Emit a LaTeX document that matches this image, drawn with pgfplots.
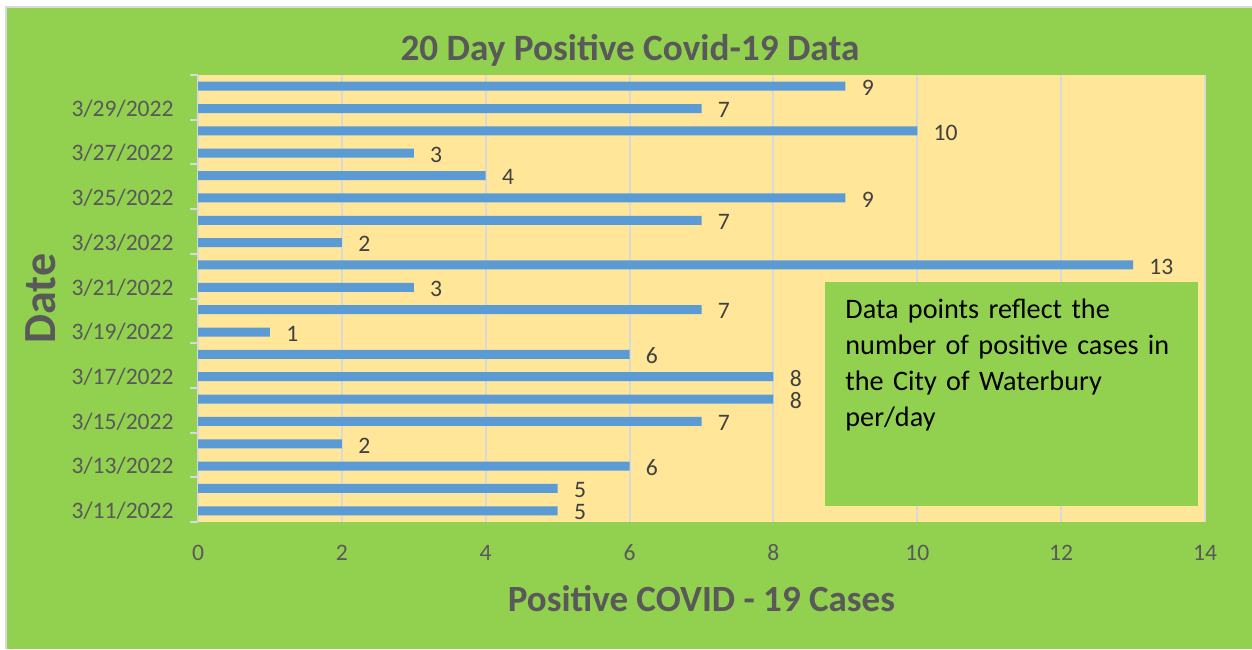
\documentclass[border=0pt]{standalone}
\usepackage{pgfplots}
\pgfplotsset{compat=1.18}
\usepackage{fontspec}
\setmainfont{Carlito}
\definecolor{bg}{HTML}{92D050}
\definecolor{plotbg}{HTML}{FFE699}
\definecolor{barc}{HTML}{5B9BD5}
\definecolor{txt}{HTML}{595959}
\definecolor{lbl}{HTML}{404040}
\definecolor{grd}{HTML}{D9D9D9}
\begin{document}
\begin{tikzpicture}
\useasboundingbox (0,0) rectangle (626pt,324.5pt);
\fill[white] (0,0) rectangle (626pt,324.5pt);
\fill[grd] (2.5pt,0pt) rectangle (626pt,321.5pt);
\fill[bg] (3.5pt,0pt) rectangle (626pt,320.5pt);
\begin{axis}[
  at={(99pt,63.5pt)}, anchor=south west,
  scale only axis, width=503.5pt, height=223.5pt,
  axis background/.style={fill=plotbg},
  xbar, bar width=4.5pt,
  xmin=0, xmax=14, ymin=-0.5, ymax=19.5,
  xtick={0,2,...,14},
  ytick={0,2,...,18},
  yticklabels={3/11/2022,3/13/2022,3/15/2022,3/17/2022,3/19/2022,3/21/2022,3/23/2022,3/25/2022,3/27/2022,3/29/2022},
  minor ytick={-0.5,1.5,...,19.5},
  ytick pos=left, xtick pos=bottom,
  major tick length=0pt, minor tick length=4pt, tick align=outside,
  tick style={grd, line width=1pt},
  xmajorgrids, major grid style={grd, line width=1pt},
  axis line style={draw=none},
  /pgf/number format/assume math mode=true,
  ticklabel style={font=\fontsize{11.8pt}{14pt}\selectfont, color=txt},
  yticklabel style={anchor=east, inner sep=0pt, xshift=-12pt},
  xticklabel style={anchor=center, inner sep=0pt, yshift=-15.5pt},
  title={20 Day Positive Covid-19 Data},
  title style={at={(axis description cs:0.429,1.0045)}, anchor=base, yshift=0pt, font=\fontsize{18.6pt}{22pt}\selectfont\bfseries, color=txt},
  xlabel={Positive COVID - 19 Cases},
  xlabel style={at={(axis description cs:0.5,-0.1991)}, anchor=base, font=\fontsize{18.5pt}{22pt}\selectfont\bfseries, color=txt},
  ylabel={Date},
  ylabel style={at={(axis description cs:-0.142,0.5)}, anchor=base, font=\fontsize{23pt}{27pt}\selectfont\bfseries, color=txt},
  nodes near coords,
  nodes near coords style={font=\fontsize{11.8pt}{14pt}\selectfont, color=lbl, anchor=west, inner sep=0pt, xshift=8pt, yshift=-0.8pt},
]
\addplot[fill=barc, draw=none] coordinates {
(5,0) (5,1) (6,2) (2,3) (7,4) (8,5) (8,6) (6,7) (1,8) (7,9)
(3,10) (13,11) (2,12) (7,13) (9,14) (4,15) (3,16) (10,17) (7,18) (9,19)};
\end{axis}
\fill[bg] (412.5pt,71.5pt) rectangle (599pt,183.5pt);
\node[anchor=north west, inner sep=0pt, text width=175pt, align=left,
  font=\fontsize{14.1pt}{18pt}\selectfont, text=black]
  at (422.5pt,175.3pt) {Data points reflect the\\ number of positive cases in\\ the City of Waterbury\\ per/day};
\end{tikzpicture}
\end{document}
